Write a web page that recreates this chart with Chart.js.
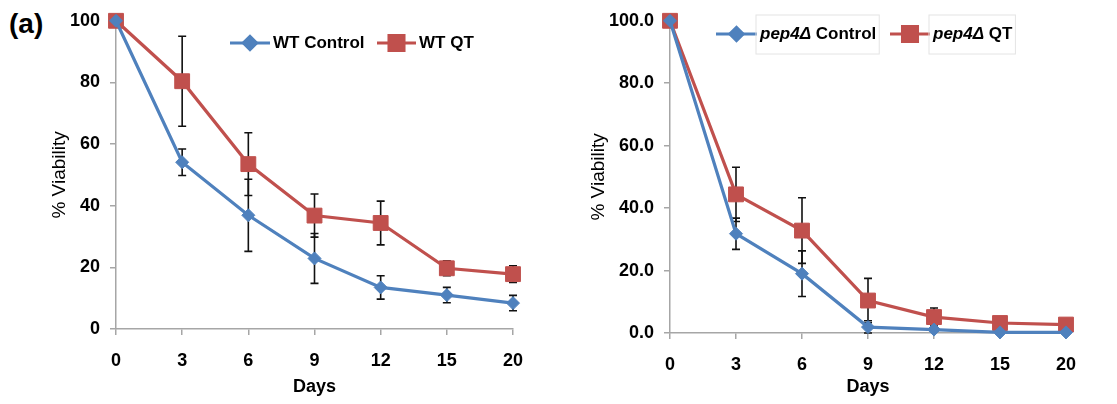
<!DOCTYPE html>
<html>
<head>
<meta charset="utf-8">
<script src="https://cdn.jsdelivr.net/npm/chart.js@4"></script>
<style>
body { margin: 0; background: #fff; width: 1117px; height: 404px; position: relative; overflow: hidden; font-family: "Liberation Sans", Arial, sans-serif; }
#left { position: absolute; left: 0; top: 0; }
#right { position: absolute; left: 560px; top: 0; }
#tag { position: absolute; left: 9px; top: 8px; font-size: 28px; font-weight: bold; }
</style>
</head>
<body>
<div id="tag">(a)</div>
<canvas id="left" width="560" height="404"></canvas>
<canvas id="right" width="557" height="404"></canvas>
<script>
// days on the x axis (category axis, evenly spaced like the original)
const days = ['0', '3', '6', '9', '12', '15', '20'];

// left panel - wild type
const wtControl = [100, 54.1, 36.9, 22.9, 13.5, 11.0, 8.4];
const wtControlErr = [0, 4.3, 11.7, 8.1, 3.8, 2.5, 2.5];
const wtQT = [100, 80.4, 53.5, 36.8, 34.4, 19.7, 17.8];
const wtQTErr = [0, 14.6, 10.2, 7.0, 7.1, 2.4, 2.7];

// right panel - pep4 deletion
const pepControl = [100, 31.8, 19.0, 1.9, 1.1, 0.2, 0.2];
const pepControlErr = [0, 5.0, 7.3, 2.0, 0.5, 0.3, 0.3];
const pepQT = [100, 44.4, 32.8, 10.4, 5.1, 3.2, 2.7];
const pepQTErr = [0, 8.7, 10.5, 7.1, 2.9, 0.8, 0.6];

const yTicks = [0, 20, 40, 60, 80, 100];

const BLUE = '#4f81bd';
const RED = '#c0504d';
const AXIS = '#a6a6a6';
const FAMILY = '"Liberation Sans", Arial, sans-serif';

Chart.defaults.font.family = FAMILY;
Chart.defaults.color = '#000';

// vertical error bars, drawn under the markers
const errorBars = {
    id: 'errorBars',
    beforeDatasetsDraw(chart) {
        const ctx = chart.ctx;
        const yScale = chart.scales.y;
        ctx.save();
        ctx.strokeStyle = '#111';
        ctx.lineWidth = 1.6;
        chart.data.datasets.forEach((ds, i) => {
            const meta = chart.getDatasetMeta(i);
            meta.data.forEach((pt, j) => {
                const e = ds.errors[j];
                if (!e) return;
                const top = yScale.getPixelForValue(ds.data[j] + e);
                const bot = yScale.getPixelForValue(Math.max(ds.data[j] - e, 0));
                ctx.beginPath();
                ctx.moveTo(pt.x, top);
                ctx.lineTo(pt.x, bot);
                ctx.moveTo(pt.x - 4, top);
                ctx.lineTo(pt.x + 4, top);
                ctx.moveTo(pt.x - 4, bot);
                ctx.lineTo(pt.x + 4, bot);
                ctx.stroke();
            });
        });
        ctx.restore();
    }
};

// excel style legend: line segment with marker, then label
const lineLegend = {
    id: 'lineLegend',
    afterDraw(chart, args, opts) {
        const ctx = chart.ctx;
        ctx.save();
        chart.data.datasets.forEach((ds, i) => {
            const it = opts.items[i];
            ctx.strokeStyle = ds.borderColor;
            ctx.lineWidth = 3.2;
            ctx.beginPath();
            ctx.moveTo(it.x, opts.y);
            ctx.lineTo(it.x + it.w, opts.y);
            ctx.stroke();
            Chart.helpers.drawPoint(ctx, {
                pointStyle: ds.pointStyle,
                radius: ds.pointRadius,
                borderWidth: 1
            }, it.x + it.w / 2, opts.y);
            ctx.fillStyle = ds.borderColor;
            ctx.fill();

            let tx = it.x + it.w + 3;
            const label = ds.label;
            ctx.fillStyle = '#000';
            ctx.textBaseline = 'middle';
            let rest = label;
            if (opts.italic && label.startsWith(opts.italic)) {
                ctx.font = 'italic bold 17px ' + FAMILY;
                ctx.fillText(opts.italic, tx, opts.y);
                tx += ctx.measureText(opts.italic).width;
                rest = label.slice(opts.italic.length);
            }
            ctx.font = 'bold 17px ' + FAMILY;
            ctx.fillText(rest, tx, opts.y);
            const end = tx + ctx.measureText(rest).width;
            if (opts.boxes) {
                ctx.strokeStyle = '#e4e4e4';
                ctx.lineWidth = 1;
                ctx.strokeRect(it.x + it.w - 1, opts.y - 19, end - (it.x + it.w) + 4, 39);
            }
        });
        ctx.restore();
    }
};

function makeDataset(label, data, errors, color, style, radius) {
    return {
        label: label,
        data: data,
        errors: errors,
        borderColor: color,
        backgroundColor: color,
        pointBackgroundColor: color,
        pointBorderColor: color,
        pointBorderWidth: 1,
        pointStyle: style,
        pointRadius: radius,
        borderWidth: 3.2,
        tension: 0,
        clip: false
    };
}

function makeChart(id, sets, cfg) {
    return new Chart(document.getElementById(id), {
        type: 'line',
        data: { labels: days, datasets: sets },
        plugins: [errorBars, lineLegend],
        options: {
            responsive: false,
            animation: false,
            events: [],
            layout: { padding: cfg.padding },
            plugins: {
                legend: { display: false },
                tooltip: { enabled: false },
                lineLegend: cfg.legend
            },
            scales: {
                x: {
                    type: 'category',
                    offset: false,
                    grid: { drawOnChartArea: false, color: AXIS, lineWidth: 1.5, tickLength: 6 },
                    border: { color: AXIS, width: 1.5 },
                    ticks: { font: { size: 18, weight: 'bold' }, padding: cfg.xPad, maxRotation: 0, autoSkip: false },
                    title: { display: true, text: 'Days', font: { size: 18, weight: 'bold' }, padding: { top: 0, bottom: 6 } },
                    afterFit(s) { s.height = cfg.xHeight; }
                },
                y: {
                    min: 0,
                    max: 100,
                    afterBuildTicks(s) { s.ticks = yTicks.map(v => ({ value: v })); },
                    grid: { drawOnChartArea: false, color: AXIS, lineWidth: 1.5, tickLength: 6 },
                    border: { color: AXIS, width: 1.5 },
                    ticks: {
                        font: { size: 18, weight: 'bold' },
                        padding: 10,
                        callback: v => cfg.decimals ? v.toFixed(1) : String(v)
                    },
                    title: { display: true, text: '% Viability', font: { size: 19 }, padding: { top: cfg.yTitlePad, bottom: 0 } },
                    afterFit(s) { s.width = cfg.yWidth; }
                }
            }
        }
    });
}

makeChart('left', [
    makeDataset('WT Control', wtControl, wtControlErr, BLUE, 'rectRot', 6.5),
    makeDataset('WT QT', wtQT, wtQTErr, RED, 'rect', 10.5)
], {
    padding: { left: 0, top: 18, right: 47, bottom: 0 },
    xHeight: 75,
    yWidth: 116,
    xPad: 15,
    yTitlePad: 48,
    decimals: false,
    legend: { y: 43, items: [{ x: 230, w: 40 }, { x: 377, w: 39 }] }
});

makeChart('right', [
    makeDataset('pep4Δ Control', pepControl, pepControlErr, BLUE, 'rectRot', 6.5),
    makeDataset('pep4Δ QT', pepQT, pepQTErr, RED, 'rect', 10.5)
], {
    padding: { left: 0, top: 17, right: 51, bottom: 0 },
    xHeight: 71,
    yWidth: 110,
    xPad: 15,
    yTitlePad: 27,
    decimals: true,
    legend: { y: 34, italic: 'pep4Δ', boxes: true, items: [{ x: 156, w: 41 }, { x: 330, w: 40 }] }
});
</script>
</body>
</html>
